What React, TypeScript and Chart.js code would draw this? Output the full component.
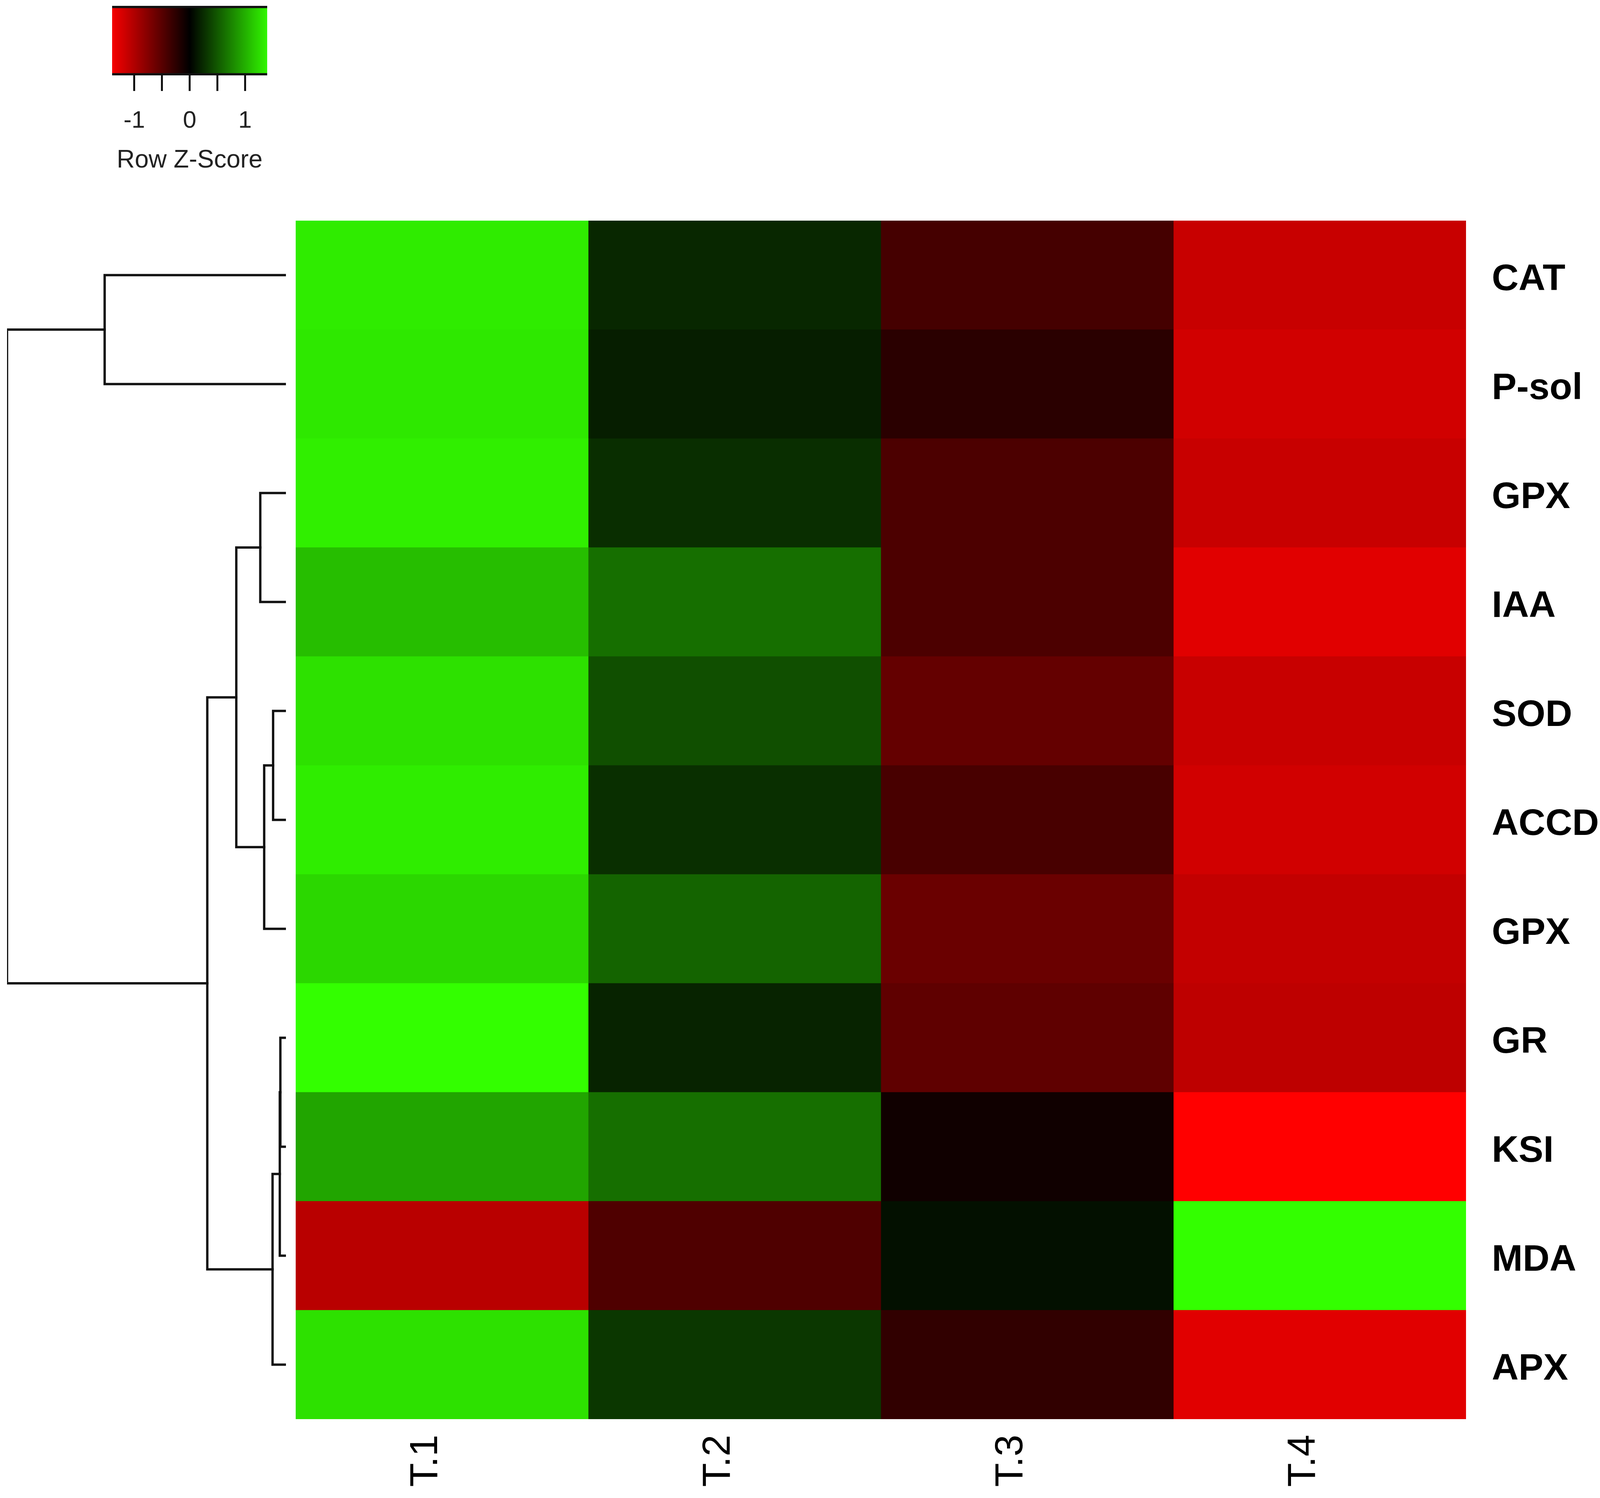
import React, { useEffect, useRef } from 'react';
import { Chart, registerables } from 'chart.js';
Chart.register(...registerables);

// ---------------- data ----------------
const ROWS = ['CAT', 'P-sol', 'GPX', 'IAA', 'SOD', 'ACCD', 'GPX', 'GR', 'KSI', 'MDA', 'APX'];
const COLUMNS = ['T.1', 'T.2', 'T.3', 'T.4'];

// Row z-scores
const T1 = [1.34, 1.32, 1.36, 1.08, 1.28, 1.35, 1.22, 1.45, 0.94, -1.05, 1.28];
const T2 = [0.22, 0.17, 0.26, 0.63, 0.45, 0.27, 0.57, 0.2, 0.63, -0.45, 0.31];
const T3 = [-0.39, -0.24, -0.43, -0.43, -0.57, -0.41, -0.6, -0.54, -0.09, 0.09, -0.28];
const T4 = [-1.14, -1.19, -1.14, -1.28, -1.14, -1.19, -1.11, -1.08, -1.45, 1.45, -1.28];
const SERIES = [T1, T2, T3, T4];

// Row dendrogram, hclust style: negative = leaf (1-based row), positive = earlier merge (1-based)
const MERGE_A = [-8, 1, -5, 2, 3, -3, 6, 7, -1, 9];
const MERGE_B = [-9, -10, -6, -11, -7, -4, 5, 4, -2, 8];
const MERGE_H = [0.2, 0.22, 0.46, 0.48, 0.78, 0.92, 1.78, 2.82, 6.5, 10.0];

// Colour key
const KEY_MIN = -1.4;
const KEY_MAX = 1.4;
const KEY_TICKS = [-1, -0.5, 0, 0.5, 1];
const KEY_LABELS = ['-1', '', '0', '', '1'];
const KEY_TITLE = 'Row Z-Score';
const COLOR_MAX = 1.45;

// ---------------- helpers ----------------
Chart.defaults.font.family = '"Liberation Sans", Arial, sans-serif';

function zColor(v: number): string {
  const t = Math.min(Math.abs(v) / COLOR_MAX, 1);
  if (v >= 0) return `rgb(${Math.round(51 * t)},${Math.round(255 * t)},0)`;
  return `rgb(${Math.round(255 * t)},0,0)`;
}

function hasFont(name: string): boolean {
  const c = document.createElement('canvas').getContext('2d');
  if (!c) return false;
  c.font = 'bold 100px monospace';
  const w1 = c.measureText('ACCD GPX P-sol').width;
  c.font = `bold 100px "${name}", monospace`;
  const w2 = c.measureText('ACCD GPX P-sol').width;
  return Math.abs(w1 - w2) > 0.5;
}

// geometry of canvases (page pixels)
const PAGE_W = 4107;
const PAGE_H = 3836;
const KEY_BOX = { left: 0, top: 0, width: 800, height: 480 };
const DEND_BOX = { left: 0, top: 565, width: 757, height: 3069 };
const HEAT_BOX = { left: 757, top: 465, width: 3350, height: 3371 };

function keyConfig(): any {
  return {
    type: 'bar',
    data: {
      labels: ['key'],
      datasets: [
        {
          data: [[KEY_MIN, KEY_MAX]],
          backgroundColor: (ctx: any) => {
            const chart = ctx.chart;
            const xs = chart.scales.x;
            if (!chart.chartArea || !xs) return '#000';
            const x0 = xs.getPixelForValue(KEY_MIN);
            const x1 = xs.getPixelForValue(KEY_MAX);
            const g = chart.ctx.createLinearGradient(x0, 0, x1, 0);
            g.addColorStop(0, zColor(KEY_MIN));
            g.addColorStop(0.5, zColor(0));
            g.addColorStop(1, zColor(KEY_MAX));
            return g;
          },
          borderColor: '#111',
          borderWidth: { top: 6, bottom: 6, left: 0, right: 0 },
          borderSkipped: false,
          barPercentage: 1,
          categoryPercentage: 1,
        },
      ],
    },
    options: {
      indexAxis: 'y',
      responsive: false,
      animation: false,
      devicePixelRatio: 1,
      layout: { padding: { left: 287, right: 116, top: 15, bottom: 0 } },
      plugins: { legend: { display: false }, tooltip: { enabled: false } },
      scales: {
        y: { display: false },
        x: {
          type: 'linear',
          min: KEY_MIN,
          max: KEY_MAX,
          afterBuildTicks: (s: any) => {
            s.ticks = KEY_TICKS.map((v) => ({ value: v }));
          },
          ticks: {
            callback: (_v: any, i: number) => KEY_LABELS[i],
            font: { size: 62 },
            color: '#222',
            padding: 40,
            autoSkip: false,
            maxRotation: 0,
            minRotation: 0,
          },
          grid: {
            display: true,
            drawOnChartArea: false,
            drawTicks: true,
            tickLength: 40,
            color: '#111',
            lineWidth: 5,
          },
          border: { display: false },
          title: {
            display: true,
            text: KEY_TITLE,
            font: { size: 64 },
            color: '#222',
            padding: { top: 0, bottom: 30 },
          },
          afterFit: (s: any) => {
            s.height = KEY_BOX.height - 193;
            s.paddingLeft = 0;
            s.paddingRight = 0;
          },
        },
      },
    },
  };
}

function dendConfig(): any {
  const nodePos: number[] = [];
  const pos = (r: number) => (r < 0 ? -r - 1 : nodePos[r - 1]);
  const ht = (r: number) => (r < 0 ? 0 : MERGE_H[r - 1]);
  const datasets = MERGE_A.map((a, i) => {
    const b = MERGE_B[i];
    nodePos[i] = (pos(a) + pos(b)) / 2;
    return {
      data: [
        { x: ht(a), y: pos(a) },
        { x: MERGE_H[i], y: pos(a) },
        { x: MERGE_H[i], y: pos(b) },
        { x: ht(b), y: pos(b) },
      ],
      showLine: true,
      borderColor: '#111',
      borderWidth: 6,
      pointRadius: 0,
      fill: false,
      tension: 0,
      borderCapStyle: 'square',
    };
  });
  return {
    type: 'scatter',
    data: { datasets },
    options: {
      responsive: false,
      animation: false,
      devicePixelRatio: 1,
      layout: { padding: { left: 18, right: 25, top: 0, bottom: 0 } },
      plugins: { legend: { display: false }, tooltip: { enabled: false } },
      scales: {
        x: { type: 'linear', reverse: true, min: 0, max: Math.max(...MERGE_H), display: false },
        y: { type: 'linear', reverse: true, min: -0.5, max: ROWS.length - 0.5, display: false },
      },
    },
  };
}

function heatConfig(): any {
  const narrow = hasFont('Liberation Sans Narrow');
  const rowFont = narrow
    ? { family: '"Liberation Sans Narrow", "Liberation Sans", Arial', size: 110, weight: 'bold' }
    : { family: '"Liberation Sans", Arial', size: 95, weight: 'bold' };
  const chartW = 2996;
  const chartH = 3069;
  const topPad = 100;
  return {
    type: 'bar',
    data: {
      labels: ROWS,
      datasets: SERIES.map((vals, ci) => ({
        label: COLUMNS[ci],
        data: vals.map(() => 1),
        backgroundColor: vals.map(zColor),
        borderWidth: 0,
        barPercentage: 1,
        categoryPercentage: 1,
        xAxisID: 'x',
        yAxisID: 'y',
      })),
    },
    options: {
      indexAxis: 'y',
      responsive: false,
      animation: false,
      devicePixelRatio: 1,
      layout: { padding: { left: 0, right: 0, top: topPad, bottom: 0 } },
      plugins: { legend: { display: false }, tooltip: { enabled: false } },
      scales: {
        x: { type: 'linear', stacked: true, min: 0, max: COLUMNS.length, display: false },
        y: {
          type: 'category',
          stacked: true,
          position: 'right',
          grid: { display: false, drawTicks: false },
          border: { display: false },
          ticks: {
            padding: 66,
            font: rowFont,
            color: '#000',
            labelOffset: 12,
            crossAlign: 'near',
            autoSkip: false,
          },
          afterFit: (s: any) => {
            s.width = HEAT_BOX.width - chartW;
            s.paddingTop = 0;
            s.paddingBottom = 0;
          },
        },
        xl: {
          type: 'category',
          labels: COLUMNS,
          axis: 'x',
          position: 'bottom',
          offset: true,
          grid: { display: false, drawTicks: false },
          border: { display: false },
          ticks: {
            minRotation: 90,
            maxRotation: 90,
            padding: 40,
            labelOffset: -40,
            font: { family: '"Liberation Sans", Arial', size: 100 },
            color: '#000',
            autoSkip: false,
          },
          afterFit: (s: any) => {
            s.height = HEAT_BOX.height - topPad - chartH;
            s.paddingLeft = 0;
            s.paddingRight = 0;
          },
        },
      },
    },
  };
}

function box(b: { left: number; top: number; width: number; height: number }): React.CSSProperties {
  return { position: 'absolute', left: b.left, top: b.top, width: b.width, height: b.height, display: 'block' };
}

export default function App() {
  const keyRef = useRef<HTMLCanvasElement>(null);
  const dendRef = useRef<HTMLCanvasElement>(null);
  const heatRef = useRef<HTMLCanvasElement>(null);

  useEffect(() => {
    const charts: Chart[] = [];
    if (keyRef.current) charts.push(new Chart(keyRef.current, keyConfig()));
    if (dendRef.current) charts.push(new Chart(dendRef.current, dendConfig()));
    if (heatRef.current) charts.push(new Chart(heatRef.current, heatConfig()));
    return () => charts.forEach((c) => c.destroy());
  }, []);

  return (
    <div style={{ position: 'absolute', left: 0, top: 0, width: PAGE_W, height: PAGE_H, background: '#fff', overflow: 'hidden' }}>
      <canvas ref={keyRef} width={KEY_BOX.width} height={KEY_BOX.height} style={box(KEY_BOX)} />
      <canvas ref={dendRef} width={DEND_BOX.width} height={DEND_BOX.height} style={box(DEND_BOX)} />
      <canvas ref={heatRef} width={HEAT_BOX.width} height={HEAT_BOX.height} style={box(HEAT_BOX)} />
    </div>
  );
}
